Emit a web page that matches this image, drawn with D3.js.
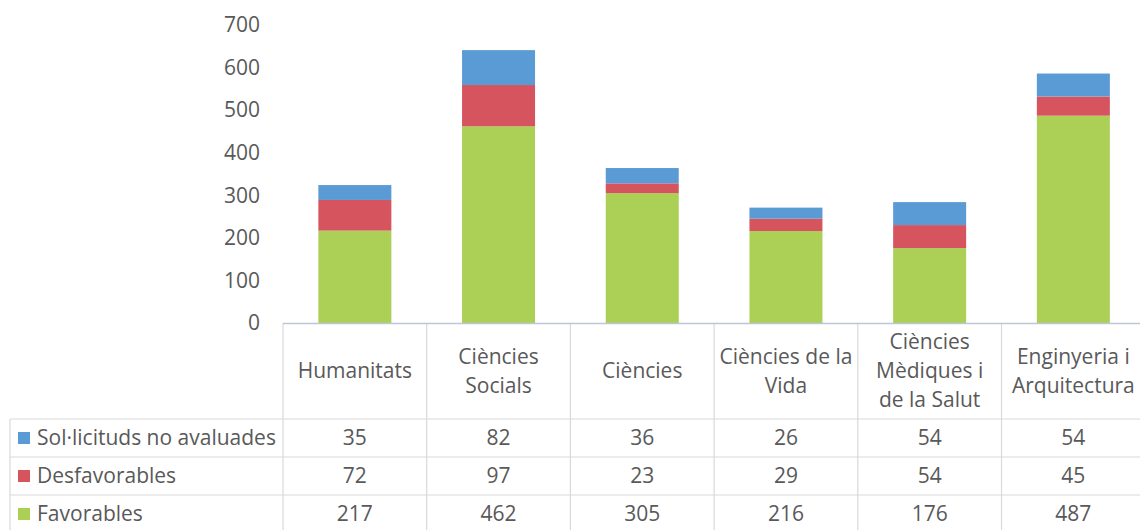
<!DOCTYPE html>
<html>
<head>
<meta charset="utf-8">
<script src="https://cdn.jsdelivr.net/npm/d3@7"></script>
<style>
body { margin: 0; background: #fff; }
text { font-family: "Open Sans", "Liberation Sans", sans-serif; fill: #595959; }
</style>
</head>
<body>
<div id="chart"></div>
<script>
var categories = [
    ['Humanitats'],
    ['Ciències', 'Socials'],
    ['Ciències'],
    ['Ciències de la', 'Vida'],
    ['Ciències', 'Mèdiques i', 'de la Salut'],
    ['Enginyeria i', 'Arquitectura']
];
var series = ['Sol·licituds no avaluades', 'Desfavorables', 'Favorables'];
var no_avaluades = [35, 82, 36, 26, 54, 54];
var desfavorables = [72, 97, 23, 29, 54, 45];
var favorables = [217, 462, 305, 216, 176, 487];
var y_ticks = [0, 100, 200, 300, 400, 500, 600, 700];
var colors = ['#5b9bd5', '#d5545e', '#accf56'];

var chart_width = 1140;
var chart_height = 530;
var left = 283;
var col_w = 143.7;
var y0 = 323;
var top_y = 25;
var row_tops = [419, 457, 495];
var row_h = 38;
var fs = 21;

var svg = d3.select('#chart')
    .append('svg')
    .attr('width', chart_width)
    .attr('height', chart_height);

// Escalas
var x_scale = d3.scaleBand()
    .domain(d3.range(categories.length))
    .range([left, left + col_w * categories.length])
    .padding(0);

var y_scale = d3.scaleLinear()
    .domain([0, 700])
    .range([y0, top_y]);

// Eixo Y
svg.selectAll('.ytick')
    .data(y_ticks)
    .enter()
    .append('text')
    .attr('class', 'ytick')
    .attr('x', 260)
    .attr('y', function (d) { return y_scale(d); })
    .attr('dy', '0.35em')
    .attr('text-anchor', 'end')
    .attr('font-size', fs)
    .text(function (d) { return d; });

// Stack
var rows = categories.map(function (c, i) {
    return { i: i, fav: favorables[i], des: desfavorables[i], no: no_avaluades[i] };
});
var stack = d3.stack().keys(['fav', 'des', 'no']);
var layers = stack(rows);
var layer_colors = [colors[2], colors[1], colors[0]];
var bar_w = 73;

svg.selectAll('g.layer')
    .data(layers)
    .enter()
    .append('g')
    .attr('class', 'layer')
    .attr('fill', function (d, i) { return layer_colors[i]; })
    .selectAll('rect')
    .data(function (d) { return d; })
    .enter()
    .append('rect')
    .attr('x', function (d) { return x_scale(d.data.i) + x_scale.bandwidth() / 2 - bar_w / 2; })
    .attr('width', bar_w)
    .attr('y', function (d) { return y_scale(d[1]); })
    .attr('height', function (d) { return y_scale(d[0]) - y_scale(d[1]); });

// Tabela de dados
var grid = svg.append('g').attr('stroke', '#d9d9d9').attr('stroke-width', 1.2);
var right = chart_width;

row_tops.forEach(function (t) {
    grid.append('line').attr('x1', 10).attr('x2', right).attr('y1', t).attr('y2', t);
});
grid.append('line').attr('x1', 10).attr('x2', 10).attr('y1', row_tops[0]).attr('y2', chart_height);
d3.range(categories.length + 1).forEach(function (i) {
    var x = left + i * col_w;
    grid.append('line').attr('x1', x).attr('x2', x).attr('y1', y0).attr('y2', chart_height);
});

// linha do eixo
svg.append('line')
    .attr('x1', left).attr('x2', right)
    .attr('y1', y0 + 0.5).attr('y2', y0 + 0.5)
    .attr('stroke', '#bcc6d6').attr('stroke-width', 1.5);

// Rotulos das categorias
var header_mid = (y0 + row_tops[0]) / 2;
categories.forEach(function (lines, i) {
    var cx = x_scale(i) + x_scale.bandwidth() / 2;
    var t = svg.append('text')
        .attr('text-anchor', 'middle')
        .attr('font-size', fs);
    lines.forEach(function (l, j) {
        t.append('tspan')
            .attr('x', cx)
            .attr('y', header_mid + (j - (lines.length - 1) / 2) * 29)
            .attr('dy', '0.35em')
            .text(l);
    });
});

// Linhas com valores
var table_values = [no_avaluades, desfavorables, favorables];
table_values.forEach(function (vals, r) {
    var cy = row_tops[r] + row_h / 2;
    svg.append('rect')
        .attr('x', 18).attr('y', cy - 6)
        .attr('width', 12).attr('height', 12)
        .attr('fill', colors[r]);
    svg.append('text')
        .attr('x', 37).attr('y', cy)
        .attr('dy', '0.35em')
        .attr('font-size', fs)
        .text(series[r]);
    svg.selectAll(null)
        .data(vals)
        .enter()
        .append('text')
        .attr('x', function (d, i) { return x_scale(i) + x_scale.bandwidth() / 2; })
        .attr('y', cy)
        .attr('dy', '0.35em')
        .attr('text-anchor', 'middle')
        .attr('font-size', fs)
        .text(function (d) { return d; });
});
</script>
</body>
</html>
